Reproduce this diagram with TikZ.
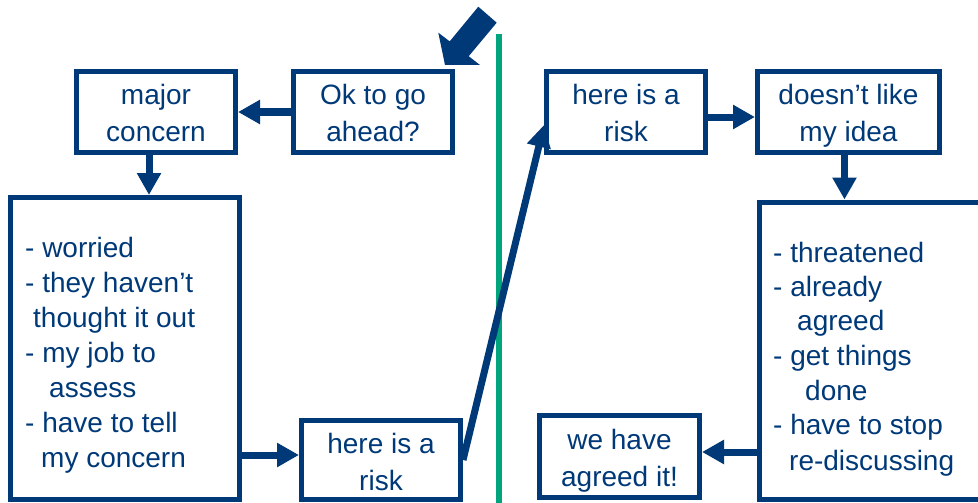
\documentclass[tikz,border=0pt]{standalone}
\usepackage{fontspec}
\setmainfont{Liberation Sans}
\usetikzlibrary{arrows.meta}
\definecolor{dblue}{RGB}{0,57,120}
\definecolor{lgreen}{RGB}{0,165,125}
\newcommand\lnstrut{\rule[-6pt]{0pt}{35pt}}
\begin{document}
\begin{tikzpicture}[x=1pt,y=-1pt,
  box/.style={draw=dblue, line width=5pt, text=dblue, align=center, inner sep=0pt,
    minimum width=159pt, minimum height=81pt, font=\fontsize{28}{37}\selectfont},
  arr/.style={draw=dblue, line width=7pt, -{Triangle[length=22pt,width=23pt]}},
  lst/.style={text=dblue, anchor=base west, inner sep=0pt, font=\fontsize{28}{35}\selectfont}]
\clip (0,0) rectangle (978,503);
\fill[white] (0,0) rectangle (978,503);

% divider
\coordinate (gtop) at (499,34);
\coordinate (gbot) at (499,503);
\draw[lgreen, line width=5.5pt] (gtop) -- (gbot);

% boxes
\node[box] (mc) at (156,112) {\lnstrut major\\\lnstrut concern};
\node[box] (ok) at (373,112) {\lnstrut Ok to go\\\lnstrut ahead?};
\node[box, minimum width=229pt, minimum height=302pt] (bl) at (125,348.5) {};
\node[box, minimum height=79pt] (br) at (381,460) {\lnstrut here is a\\\lnstrut risk};
\node[box] (tr) at (626,112) {\lnstrut here is a\\\lnstrut risk};
\node[box, minimum width=182pt] (dl) at (848.5,112) {\lnstrut doesn’t like\\\lnstrut my idea};
\node[box, minimum width=230pt, minimum height=297.5pt] (rb) at (874.5,350.75) {};
\node[box, minimum width=160pt, minimum height=82pt] (wa) at (619.5,456.5) {\lnstrut we have\\\lnstrut agreed it!};

% list texts
\foreach \x/\y/\t [count=\i] in {25/257/- worried, 25/292/- they haven’t, 33/327/thought it out,
   25/362/- my job to, 49/397/assess, 25/432/- have to tell, 41/467/my concern}
  \node[lst] (L\i) at (\x,\y) {\t};
\foreach \x/\y/\t [count=\i] in {773/262/- threatened, 773/296/- already, 797/330/agreed,
   773/365/- get things, 805/400/done, 773/434/- have to stop, 789/470/re-discussing}
  \node[lst] (R\i) at (\x,\y) {\t};

% connectors
\draw[arr] (ok.west) -- (mc.east);
\draw[arr] ([xshift=-7pt]mc.south) -- ([xshift=-7pt]mc.south |- bl.north);
\draw[arr] (bl.east |- 0,455) -- (br.west |- 0,455);
\draw[arr] (br.east) -- ([yshift=-13pt]tr.west);
\draw[arr] (tr.east |- 0,117) -- (dl.west |- 0,117);
\draw[arr] ([xshift=-4pt]dl.south) -- ([xshift=-4pt]dl.south |- rb.north);
\draw[arr] (rb.west |- 0,452) -- (wa.east |- 0,452);

% block arrow at top
\fill[dblue] (445,65) -- (480,65) -- (468.7,56.2) -- (496.7,22.7) -- (478.3,6.7)
  -- (449.7,41.4) -- (438.3,32.7) -- cycle;
\end{tikzpicture}
\end{document}
